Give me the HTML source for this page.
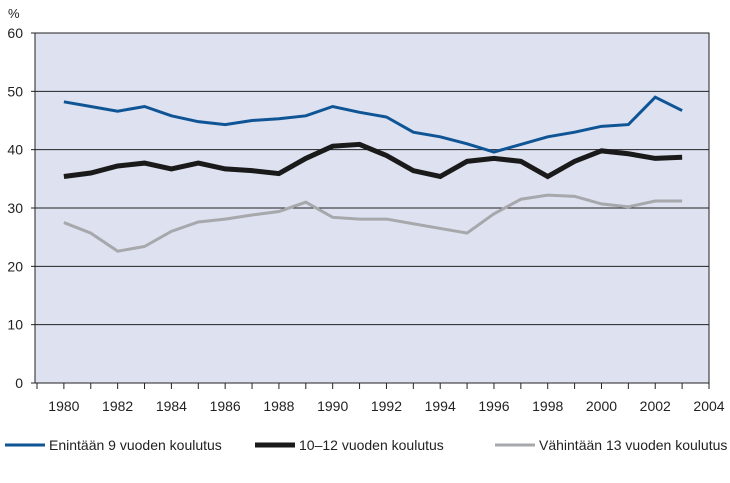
<!DOCTYPE html>
<html><head><meta charset="utf-8"><style>
body{margin:0;background:#fff;font-family:"Liberation Sans",sans-serif;}
svg text{font-family:"Liberation Sans",sans-serif;fill:#222;}
</style></head><body>
<svg width="730" height="478" id="chart"></svg>
<script>
const years=[1980,1981,1982,1983,1984,1985,1986,1987,1988,1989,1990,1991,1992,1993,1994,1995,1996,1997,1998,1999,2000,2001,2002,2003];
const basic=[48.2,47.4,46.6,47.4,45.8,44.8,44.3,45.0,45.3,45.8,47.4,46.4,45.6,43.0,42.2,41.0,39.6,40.9,42.2,43.0,44.0,44.3,49.0,46.7];
const mid=[35.4,36.0,37.2,37.7,36.7,37.7,36.7,36.4,35.9,38.5,40.6,40.9,39.0,36.4,35.4,38.0,38.5,38.0,35.4,38.0,39.8,39.3,38.5,38.7];
const high=[27.5,25.7,22.6,23.4,26.0,27.6,28.1,28.8,29.4,31.0,28.4,28.1,28.1,27.3,26.5,25.7,29.0,31.5,32.2,32.0,30.7,30.2,31.2,31.2];
const yTicks=[0,10,20,30,40,50,60];
const xLabels=[1980,1982,1984,1986,1988,1990,1992,1994,1996,1998,2000,2002,2004];
const seriesNames=["Enintään 9 vuoden koulutus","10–12 vuoden koulutus","Vähintään 13 vuoden koulutus"];

const NS="http://www.w3.org/2000/svg";
const svg=document.getElementById('chart');
const L=35,R=709,T=33,B=383;
const x=v=>37+(v-1979)*(R-37)/25;
const y=v=>B-(v/60)*(B-T);
function mk(tag,attrs,parent){const e=document.createElementNS(NS,tag);for(const k in attrs)e.setAttribute(k,attrs[k]);(parent||svg).appendChild(e);return e;}

const bg=mk('rect',{x:L,y:T,width:R-L,height:B-T,fill:'#dde1f0',stroke:'#222','stroke-width':1});



yTicks.forEach(t=>{
  if(t>0&&t<60){const g=mk('line',{x1:L,x2:R,y1:y(t),y2:y(t),stroke:'#222','stroke-width':1});
  
  }
  const tk=mk('line',{x1:L-4,x2:L,y1:y(t),y2:y(t),stroke:'#222'});
  
  
  const tx=mk('text',{x:L-12,y:y(t)+5,'text-anchor':'end','font-size':14});
  tx.textContent=t;
  
  
});
const pct=mk('text',{x:8,y:18,'font-size':13});
pct.textContent='%';



for(let yr=1979;yr<=2004;yr++){
  const tk=mk('line',{x1:x(yr),x2:x(yr),y1:B,y2:B+6,stroke:'#222'});
  
  
}
xLabels.forEach(l=>{
  const tx=mk('text',{x:x(l),y:B+28,'text-anchor':'middle','font-size':14});
  tx.textContent=l;
  
  
});

const styles=[['#0f5596',3],['#1a1a1a',5],['#a7a8ab',3]];
[basic,mid,high].forEach((s,i)=>{
  const p=mk('polyline',{points:s.map((v,j)=>x(years[j])+','+y(v)).join(' '),fill:'none',stroke:styles[i][0],'stroke-width':styles[i][1],'stroke-linejoin':'miter'});
  
  
});

const lx=[5,255,495];
seriesNames.forEach((n,i)=>{
  const ln=mk('line',{x1:lx[i],x2:lx[i]+40,y1:445,y2:445,stroke:styles[i][0],'stroke-width':styles[i][1]});
  
  
  const tx=mk('text',{x:lx[i]+44,y:450,'font-size':14});
  tx.textContent=n;
  
  
});
</script>
</body></html>
